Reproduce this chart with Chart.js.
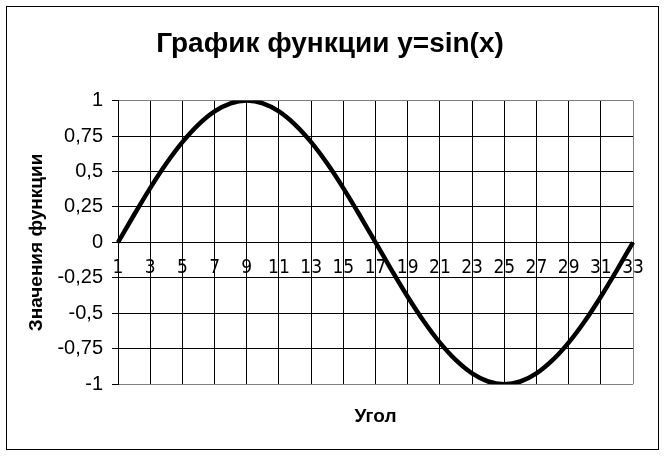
<!DOCTYPE html>
<html>
<head>
<meta charset="utf-8">
<script src="https://cdn.jsdelivr.net/npm/chart.js@4"></script>
<style>
  html, body { margin: 0; padding: 0; background: #fff; }
  #wrap { width: 666px; height: 456px; }
</style>
</head>
<body>
<div id="wrap"><canvas id="sinChart"></canvas></div>
<script>
const xLabels = ['1', '2', '3', '4', '5', '6', '7', '8', '9', '10', '11', '12', '13', '14', '15', '16', '17',
    '18', '19', '20', '21', '22', '23', '24', '25', '26', '27', '28', '29', '30', '31', '32', '33'];
const sinValues = [0, 0.195, 0.383, 0.556, 0.707, 0.831, 0.924, 0.981, 1, 0.981, 0.924, 0.831, 0.707, 0.556, 0.383, 0.195, 0,
    -0.195, -0.383, -0.556, -0.707, -0.831, -0.924, -0.981, -1, -0.981, -0.924, -0.831, -0.707, -0.556, -0.383, -0.195, 0];
const yTickValues = [-1, -0.75, -0.5, -0.25, 0, 0.25, 0.5, 0.75, 1];

Chart.defaults.font.family = "'Liberation Sans', Arial, sans-serif";
Chart.defaults.color = '#000';

// outer frame around the whole picture
const framePlugin = {
    id: 'frame',
    beforeDraw(chart) {
        const ctx = chart.ctx;
        ctx.save();
        ctx.fillStyle = '#fff';
        ctx.fillRect(0, 0, chart.width, chart.height);
        ctx.strokeStyle = '#000';
        ctx.lineWidth = 1;
        ctx.strokeRect(6.5, 6.5, 652, 443);
        ctx.restore();
    }
};

const sinChart = new Chart(document.getElementById('sinChart').getContext('2d'), {
    type: 'line',
    data: {
        labels: xLabels,
        datasets: [{
            label: 'y=sin(x)',
            data: sinValues,
            borderColor: '#000',
            borderWidth: 4.5,
            pointRadius: 0,
            tension: 0.3,
            fill: false
        }]
    },
    options: {
        responsive: true,
        maintainAspectRatio: false,
        animation: false,
        layout: {
            padding: { left: 27, top: 0, right: 33, bottom: 0 }
        },
        plugins: {
            legend: { display: false },
            tooltip: { enabled: false },
            title: {
                display: true,
                text: 'График функции y=sin(x)',
                font: { size: 28, weight: 'bold' },
                color: '#000',
                padding: { top: 27, bottom: 40 }
            },
            subtitle: {
                display: true,
                position: 'bottom',
                fullSize: false,
                text: 'Угол',
                font: { size: 19, weight: 'bold' },
                color: '#000',
                padding: { top: 21, bottom: 28 }
            }
        },
        scales: {
            x: {
                type: 'category',
                position: { y: 0 },
                offset: false,
                border: { display: true, color: '#000', width: 1 },
                grid: {
                    drawTicks: false,
                    lineWidth: 1,
                    color: ctx => {
                        if (ctx.index === xLabels.length - 1) return '#808080';
                        return ctx.index % 2 === 0 ? '#000' : 'rgba(0,0,0,0)';
                    }
                },
                ticks: {
                    autoSkip: false,
                    maxRotation: 0,
                    minRotation: 0,
                    padding: 14,
                    font: { family: "'Liberation Sans Narrow', 'DejaVu Sans Condensed', 'Liberation Sans'", size: 19 },
                    color: '#000',
                    callback: function(value, index) {
                        return index % 2 === 0 ? xLabels[index] : '';
                    }
                }
            },
            y: {
                position: 'left',
                min: -1,
                max: 1,
                afterBuildTicks: scale => {
                    scale.ticks = yTickValues.map(v => ({ value: v }));
                },
                afterFit: scale => {
                    scale.width = 91;
                },
                border: { display: true, color: '#000', width: 1 },
                grid: {
                    lineWidth: 1,
                    tickLength: 6,
                    tickColor: '#000',
                    color: ctx => (ctx.tick && Math.abs(ctx.tick.value) === 1) ? '#808080' : '#000'
                },
                ticks: {
                    padding: 9,
                    font: { size: 20 },
                    color: '#000',
                    callback: value => String(value).replace('.', ',')
                },
                title: {
                    display: true,
                    text: 'Значения функции',
                    font: { size: 19, weight: 'bold' },
                    color: '#000',
                    padding: { top: -2, bottom: 0 }
                }
            }
        }
    },
    plugins: [framePlugin]
});
</script>
</body>
</html>
